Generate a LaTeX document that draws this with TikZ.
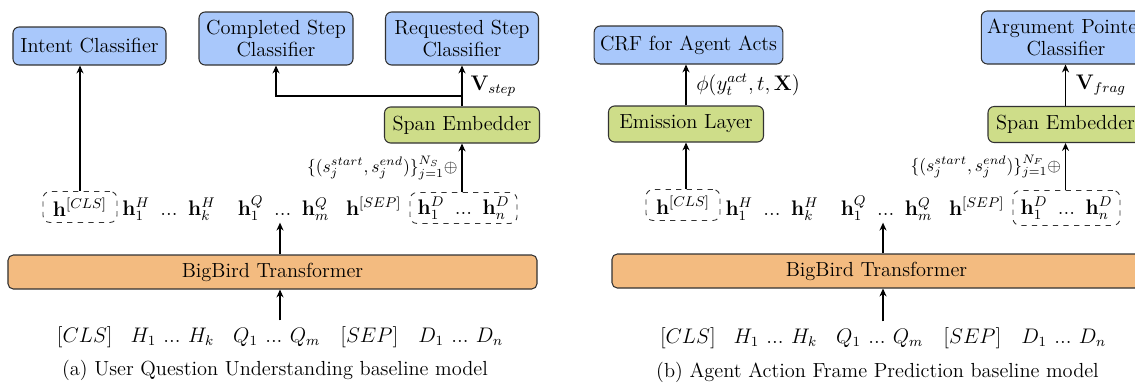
\documentclass[tikz,border=0pt]{standalone}
\usepackage{amsmath}
\usetikzlibrary{arrows.meta, positioning}
\definecolor{clsBlue}{RGB}{169,200,251}
\definecolor{embGreen}{RGB}{206,221,137}
\definecolor{birdOrange}{RGB}{243,187,128}
\definecolor{lineGray}{RGB}{50,50,50}
\newcommand{\hdt}{\hspace{0.5em}...\hspace{0.5em}}
\newcommand{\indt}{\hspace{0.35em}...\hspace{0.35em}}
\newcommand{\hrow}{$\mathbf{h}_1^H$\hdt$\mathbf{h}_k^H$\hspace{1.05em}$\mathbf{h}_1^Q$\hdt$\mathbf{h}_m^Q$\hspace{0.8em}$\mathbf{h}^{[SEP]}$}
\newcommand{\inrow}{$[CLS]$\hspace{0.85em}$H_1$\indt$H_k$\hspace{0.9em}$Q_1$\indt$Q_m$\hspace{0.95em}$[SEP]$\hspace{0.95em}$D_1$\indt$D_n$}

\begin{document}
\begin{tikzpicture}[font=\fontsize{11.6}{13}\selectfont,
    blueBox/.style={draw=lineGray, fill=clsBlue, rounded corners=3.5pt, align=center, minimum height=0.76cm, line width=0.6pt},
    greenBox/.style={draw=lineGray, fill=embGreen, rounded corners=3.5pt, minimum width=3.1cm, minimum height=0.72cm, line width=0.6pt},
    bigBox/.style={draw=lineGray, fill=birdOrange, rounded corners=3pt, minimum width=10.58cm, minimum height=0.68cm, line width=0.6pt},
    dashBox/.style={draw=lineGray, dashed, rounded corners=4pt, minimum height=0.62cm, inner sep=2pt, line width=0.5pt, font=\fontsize{12}{13.5}\selectfont},
    mathRow/.style={font=\fontsize{12}{13.5}\selectfont},
    setLabel/.style={font=\fontsize{10}{11}\selectfont, inner sep=2pt},
    arr/.style={-{Stealth[length=4.5pt, width=4pt]}, line width=1pt}]
    \useasboundingbox (0,0) rectangle (22.7,-7.68);

    % (a) User Question Understanding
    \node[blueBox, minimum width=3.06cm] (intA) at (1.79,-0.92) {Intent Classifier};
    \node[blueBox, minimum width=3.08cm, minimum height=1.06cm] (cmpA) at (5.52,-0.77) {Completed Step\\Classifier};
    \node[blueBox, minimum width=3.06cm, minimum height=1.06cm] (reqA) at (9.24,-0.77) {Requested Step\\Classifier};
    \node[greenBox] (spanA) at (9.24,-2.5) {Span Embedder};

    \node[dashBox, minimum width=1.48cm] (clsA) at (1.6,-4.14) {$\mathbf{h}^{[CLS]}$};
    \node[mathRow, inner sep=1pt] (hA) at (5.24,-4.16) {\hrow};
    \node[dashBox, minimum width=2.14cm] (docA) at (9.27,-4.16) {$\mathbf{h}_1^D$\hdt$\mathbf{h}_n^D$};

    \node[bigBox] (bigA) at (5.45,-5.44) {BigBird Transformer};
    \node[mathRow] (inA) at (5.6,-6.74) {\inrow};
    \node (capA) at (5.5,-7.4) {(a) User Question Understanding baseline model};

    \coordinate (brA) at (9.24,-1.92);
    \draw[arr] (clsA.north) -- (intA.south -| clsA.north);
    \draw[arr] (spanA) -- (reqA) node[midway, right, xshift=1pt, mathRow] {$\mathbf{V}_{step}$};
    \draw[arr] (brA) -| (cmpA.south);
    \draw[arr] (docA.north -| spanA) -- (spanA.south) node[midway, left, setLabel] {$\{(s_j^{start}, s_j^{end})\}_{j=1}^{N_S} \oplus$};
    \draw[arr] (bigA.north -| inA.north) -- (hA.south -| inA.north);
    \draw[arr] (inA.north) -- (bigA.south -| inA.north);

    % (b) Agent Action Frame Prediction
    \node[blueBox, minimum width=3.62cm] (crfB) at (13.77,-0.9) {CRF for Agent Acts};
    \node[greenBox] (emB) at (13.72,-2.48) {Emission Layer};
    \node[blueBox, minimum width=3.08cm, minimum height=1.06cm] (argB) at (21.32,-0.75) {Argument Pointer\\Classifier};
    \node[greenBox] (spanB) at (21.31,-2.49) {Span Embedder};

    \node[dashBox, minimum width=1.48cm] (clsB) at (13.66,-4.1) {$\mathbf{h}^{[CLS]}$};
    \node[mathRow, inner sep=1pt] (hB) at (17.3,-4.16) {\hrow};
    \node[dashBox, minimum width=2.14cm, minimum height=0.7cm] (docB) at (21.33,-4.16) {$\mathbf{h}_1^D$\hdt$\mathbf{h}_n^D$};

    \node[bigBox] (bigB) at (17.53,-5.42) {BigBird Transformer};
    \node[mathRow] (inB) at (17.66,-6.76) {\inrow};
    \node (capB) at (17.55,-7.45) {(b) Agent Action Frame Prediction baseline model};

    \draw[arr] (clsB.north -| emB) -- (emB.south);
    \draw[arr] (emB) -- (crfB.south -| emB) node[midway, right, xshift=2pt, mathRow] {$\phi(y_t^{act}, t, \mathbf{X})$};
    \draw[arr] (spanB) -- (argB.south -| spanB) node[midway, right, xshift=2pt, mathRow] {$\mathbf{V}_{frag}$};
    \draw[arr] (docB.north -| spanB) -- (spanB.south) node[midway, left, setLabel] {$\{(s_j^{start}, s_j^{end})\}_{j=1}^{N_F} \oplus$};
    \draw[arr] (bigB.north -| inB.north) -- (hB.south -| inB.north);
    \draw[arr] (inB.north) -- (bigB.south -| inB.north);
\end{tikzpicture}
\end{document}
